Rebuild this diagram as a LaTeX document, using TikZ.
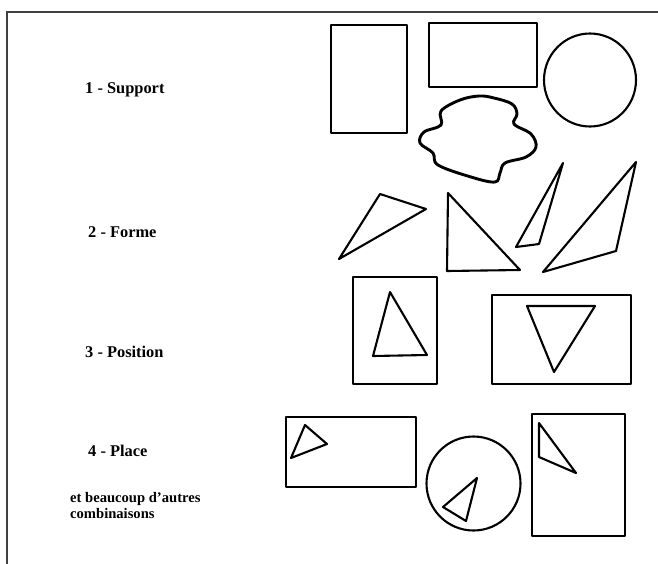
\documentclass[tikz,border=0pt]{standalone}
\usepackage{fontspec}
\setmainfont{Liberation Serif}
\begin{document}
\begin{tikzpicture}[x=1pt,y=-1pt,
  outl/.style={line width=2.1pt,line join=round},
  blobline/.style={line width=2.9pt,line join=round},
  framel/.style={line width=1.2pt,draw=black!75},
  lab/.style={anchor=base west,inner sep=0pt,font=\fontsize{16.4}{18}\selectfont\bfseries},
  smalltxt/.style={anchor=base west,inner sep=0pt,align=left,font=\fontsize{14.6}{15.5}\selectfont\bfseries}]
\useasboundingbox (0,0) rectangle (658,563);
% frame
\draw[framel] (7,575) -- (7,12) -- (670,12);
% labels
\node[lab] (l1) at (85,93) {1 - Support};
\node[lab] (l2) at (88,237) {2 - Forme};
\node[lab] (l3) at (85,357) {3 - Position};
\node[lab] (l4) at (88,456) {4 - Place};
\node[smalltxt] (l5) at (70,518) {et beaucoup d'autres\\combinaisons};
% 1 - Support
\draw[outl] (331,25) rectangle (407,133);
\draw[outl] (429,23) rectangle (537,87);
\draw[outl] (590,80) ellipse (46 and 46.5);
\draw[blobline] plot[smooth cycle,tension=0.6] coordinates {
  (441,111) (460,100) (479,96) (494,98) (512,104) (517,114) (514,124)
  (531,134) (536,147) (526,157) (505,163) (500,173) (495,182)
  (471,177) (438,165) (433,153) (420,143) (424,132) (441,125)};
% 2 - Forme
\draw[outl] (380,194) -- (426,209) -- (339,259) -- cycle;
\draw[outl] (448,193) -- (447,271) -- (520,270) -- cycle;
\draw[outl] (563,163) -- (539,244) -- (516,247) -- cycle;
\draw[outl] (636,162) -- (616,251) -- (543,272) -- cycle;
% 3 - Position
\draw[outl] (353,277) rectangle (437,384);
\draw[outl] (390,292) -- (427,355) -- (373,356) -- cycle;
\draw[outl] (492,295) rectangle (631,384);
\draw[outl] (527,306) -- (595,306) -- (554,372) -- cycle;
% 4 - Place
\draw[outl] (286,417) rectangle (416,487);
\draw[outl] (305,425) -- (327,444) -- (291,458) -- cycle;
\draw[outl] (473.5,483.5) circle (47);
\draw[outl] (477,478) -- (466,521) -- (443,507) -- cycle;
\draw[outl] (532,414) rectangle (625,536);
\draw[outl] (539,423) -- (576,473) -- (539,457) -- cycle;
\end{tikzpicture}
\end{document}
